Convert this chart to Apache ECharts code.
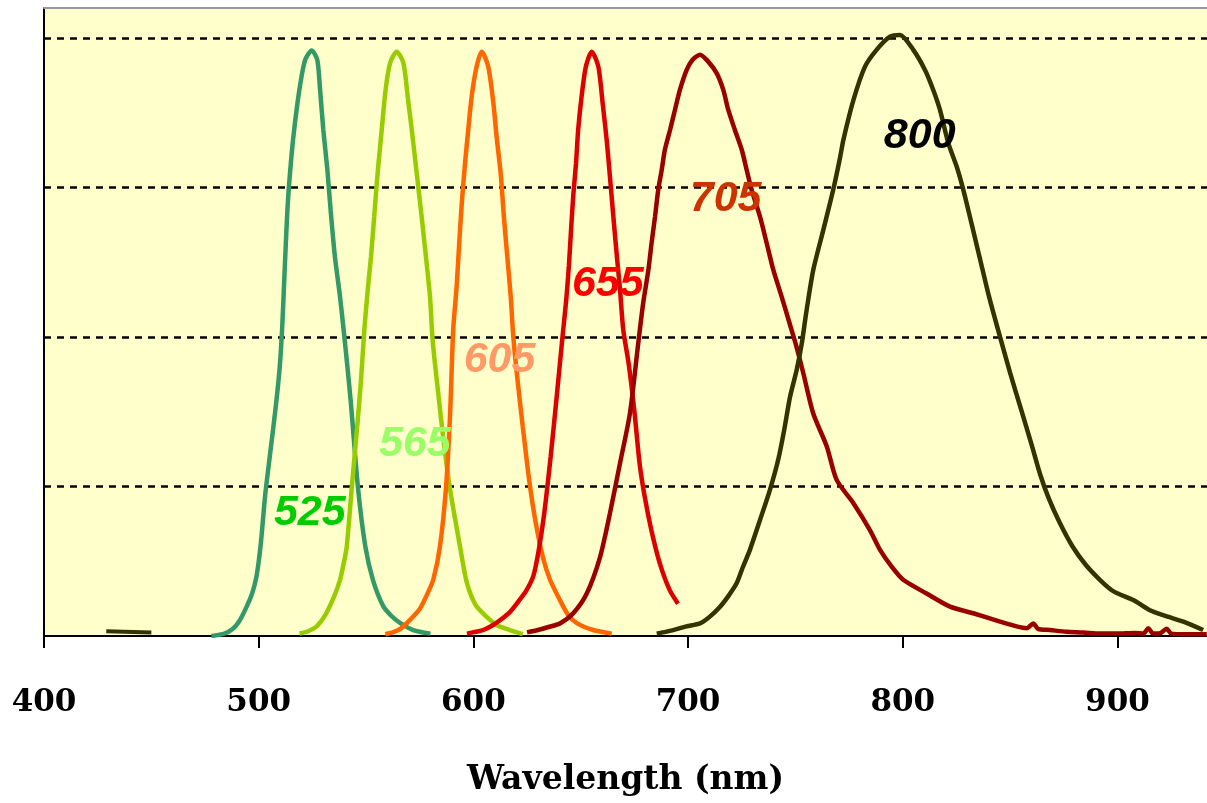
<!DOCTYPE html>
<html><head><meta charset="utf-8">
<script src="https://cdn.jsdelivr.net/npm/echarts@6/dist/echarts.min.js"></script>
<style>html,body{margin:0;padding:0;background:#fff}#c{width:1207px;height:803px}</style>
</head><body><div id="c"></div>
<script>
// Emission spectra (wavelength nm, normalized intensity)
const qd525 = [[478,0],[484,0.004],[488,0.012],[491,0.025],[494.5,0.05],[497,0.072],[499,0.1],[501,0.155],[503,0.235],[505.5,0.31],[508,0.385],[509.8,0.45],[511,0.52],[512.2,0.62],[513.5,0.72],[515.2,0.8],[516.9,0.858],[519.2,0.919],[521.6,0.963],[524.7,0.979],[527.3,0.963],[528.6,0.913],[530.1,0.846],[532,0.779],[533.5,0.712],[535.5,0.634],[537.9,0.567],[540.2,0.49],[542.8,0.395],[546.3,0.246],[549.7,0.149],[553.2,0.094],[558,0.05],[562,0.033],[565.8,0.022],[572,0.01],[580,0.004]];
const qd565 = [[519,0.004],[523,0.008],[527,0.016],[531,0.035],[535,0.065],[537.9,0.094],[539.5,0.12],[541,0.149],[543.3,0.246],[545.6,0.339],[547.5,0.42],[549.2,0.512],[550.8,0.579],[552.3,0.634],[553.8,0.701],[555.4,0.774],[557.3,0.846],[559.1,0.913],[561.2,0.958],[564.3,0.977],[567.4,0.958],[569.4,0.902],[571.3,0.846],[573.6,0.774],[575.9,0.701],[577.9,0.634],[579.8,0.567],[581,0.495],[583.5,0.41],[586,0.33],[589.1,0.246],[593.8,0.149],[596.9,0.09],[601,0.052],[606.2,0.032],[611,0.018],[617,0.01],[623,0.003]];
const qd605 = [[559,0.003],[563,0.007],[566,0.012],[570.5,0.027],[575,0.045],[578.5,0.07],[581.3,0.094],[584.4,0.149],[587.2,0.246],[589.1,0.367],[590.6,0.512],[592.2,0.584],[593.4,0.657],[594.6,0.724],[596.1,0.79],[597.6,0.846],[599.2,0.902],[601.5,0.952],[603.9,0.977],[606.9,0.952],[609.3,0.891],[610.8,0.835],[612.7,0.774],[614.2,0.701],[615.8,0.634],[617.4,0.567],[618.6,0.5],[620.5,0.43],[623,0.35],[626,0.26],[629,0.19],[632.5,0.13],[635.7,0.094],[640.3,0.06],[644,0.036],[648,0.022],[655.8,0.01],[664.4,0.004]];
const qd655 = [[597,0.004],[601,0.007],[604.6,0.01],[609,0.018],[613,0.028],[617,0.04],[621,0.058],[624.5,0.075],[627.9,0.1],[630.5,0.145],[633,0.205],[636,0.3],[638.8,0.4],[641.5,0.5],[643.2,0.56],[644.5,0.62],[645.5,0.68],[646.6,0.74],[647.8,0.79],[648.8,0.846],[650.4,0.902],[652.4,0.952],[655.1,0.977],[658.2,0.952],[660.2,0.891],[662.1,0.829],[663.6,0.768],[665.2,0.701],[666.7,0.64],[668.3,0.579],[669.8,0.512],[672.3,0.456],[675.1,0.372],[677.4,0.289],[679.8,0.233],[682.9,0.177],[686.8,0.122],[691.4,0.077],[695.3,0.054]];
const qd705 = [[625,0.006],[630,0.01],[635,0.015],[640.3,0.021],[646.5,0.038],[652.8,0.071],[659,0.132],[663.6,0.205],[668.3,0.289],[672.9,0.372],[676.8,0.49],[679.1,0.557],[681.5,0.612],[683,0.657],[684.6,0.701],[686.1,0.746],[687.7,0.779],[689.2,0.813],[691.6,0.846],[693.9,0.88],[696.2,0.913],[699.3,0.946],[702,0.963],[705.5,0.972],[709,0.962],[713.3,0.941],[716.4,0.913],[718.7,0.88],[721.8,0.846],[725,0.813],[727.3,0.779],[729.6,0.746],[733.5,0.701],[736.6,0.657],[739.7,0.612],[743.6,0.567],[747.5,0.52],[750,0.49],[753.7,0.439],[758.3,0.372],[764.6,0.317],[769.2,0.261],[777,0.222],[784.7,0.177],[789.4,0.144],[795,0.115],[800.2,0.094],[811.1,0.071],[822,0.049],[832.8,0.038],[845.3,0.024],[853,0.016],[857.7,0.013],[860.8,0.021],[863,0.012],[868.6,0.01],[876.3,0.007],[884,0.006],[892,0.004],[900,0.004],[908,0.005],[912,0.004],[914.4,0.013],[916.5,0.004],[920,0.005],[922.9,0.012],[925,0.004],[932,0.003],[941.6,0.003]];
const qd800 = [[685.4,0.004],[692,0.009],[699.3,0.016],[705.5,0.021],[710,0.032],[714.9,0.049],[719,0.068],[722.6,0.088],[725.5,0.115],[728.8,0.144],[733.5,0.194],[738.1,0.244],[742,0.295],[744.8,0.345],[747.5,0.4],[750.6,0.445],[753,0.49],[755,0.54],[758.3,0.612],[763,0.679],[767.6,0.746],[770.8,0.8],[772.3,0.829],[777,0.896],[782.4,0.952],[787.8,0.98],[794,1.002],[798.7,1.005],[804.9,0.98],[810.4,0.946],[814.2,0.913],[817.3,0.88],[821.2,0.824],[825.1,0.785],[828.2,0.746],[832,0.69],[836,0.63],[840,0.57],[845.3,0.5],[850,0.44],[855,0.38],[860,0.32],[864,0.27],[868,0.23],[873,0.19],[879,0.15],[885,0.12],[891.8,0.094],[898,0.075],[907.4,0.06],[915.1,0.043],[922,0.034],[930.7,0.024],[939.9,0.01]];
const qd800start = [[429,0.008],[450,0.006]];

const seriesNames = ['525','565','605','655','705','800'];
// label anchor points (wavelength, intensity)
const labelAnchors = [[523.8,0.206],[572.7,0.321],[612.2,0.462],[662.6,0.589],[717.5,0.731],[807.9,0.836]];
const xTickStep = 100;
const yGridStep = 0.25;

const curves = [qd525, qd565, qd605, qd655, qd705, qd800];
const lineColors = ['#339966','#99CC00','#FF6600','#DD0000','#990000','#333300'];
const labelColors = ['#00CC00','#99FF66','#FF9966','#FF0000','#CC3300','#000000'];

const series = curves.map((d,i)=>({
  type:'line', name:seriesNames[i], data:d, showSymbol:false, symbol:'none',
  smooth:0.25, lineStyle:{color:lineColors[i], width:4.5}, itemStyle:{color:lineColors[i]}, z:2+i
}));
series.push({type:'line', name:'800b', data:qd800start, showSymbol:false, symbol:'none',
  lineStyle:{color:'#333300', width:4}, z:2});
series.push({
  type:'scatter', z:20, symbol:'circle', symbolSize:0, itemStyle:{color:'#000', opacity:1},
  emphasis:{disabled:true},
  data: labelAnchors.map((p,i)=>({value:p, name:seriesNames[i], label:{color:labelColors[i]}})),
  label:{show:true, position:'inside', formatter:'{b}', fontFamily:'Liberation Sans, Arial, sans-serif',
    fontStyle:'italic', fontWeight:'bold', fontSize:43, opacity:1,
    textBorderWidth:0,
    textShadowColor:'rgba(255,255,255,1)', textShadowBlur:0, textShadowOffsetX:2, textShadowOffsetY:2},
  silent:true
});

const chart = echarts.init(document.getElementById('c'));
chart.setOption({
  animation:false,
  backgroundColor:'#ffffff',
  grid:{left:44, right:0, top:8, bottom:167, show:true, backgroundColor:'#FFFFCC', borderWidth:0},
  xAxis:[{
    type:'value', min:400, max:941.7, interval:xTickStep, position:'bottom',
    axisLine:{show:true, onZero:false, lineStyle:{color:'#000', width:2}},
    axisTick:{show:true, length:12, lineStyle:{color:'#000', width:2}},
    axisLabel:{margin:51, fontFamily:'DejaVu Serif, serif', fontWeight:'bold', fontSize:31, color:'#000', showMaxLabel:false},
    splitLine:{show:false},
    name:'Wavelength (nm)', nameLocation:'middle', nameGap:128,
    nameTextStyle:{fontFamily:'DejaVu Serif, serif', fontWeight:'bold', fontSize:33, color:'#000'}
  },{
    type:'value', min:400, max:941.7, position:'top',
    axisLine:{show:true, onZero:false, lineStyle:{color:'#999', width:2}},
    axisTick:{show:false}, axisLabel:{show:false}, splitLine:{show:false}
  }],
  yAxis:{
    type:'value', min:0, max:1.05, interval:yGridStep,
    axisLine:{show:true, lineStyle:{color:'#000', width:2}},
    axisTick:{show:false}, axisLabel:{show:false},
    splitLine:{show:true, showMinLine:false, showMaxLine:false, lineStyle:{color:'#000', width:2.5, type:[7,6]}}
  },
  series: series
});
</script></body></html>
